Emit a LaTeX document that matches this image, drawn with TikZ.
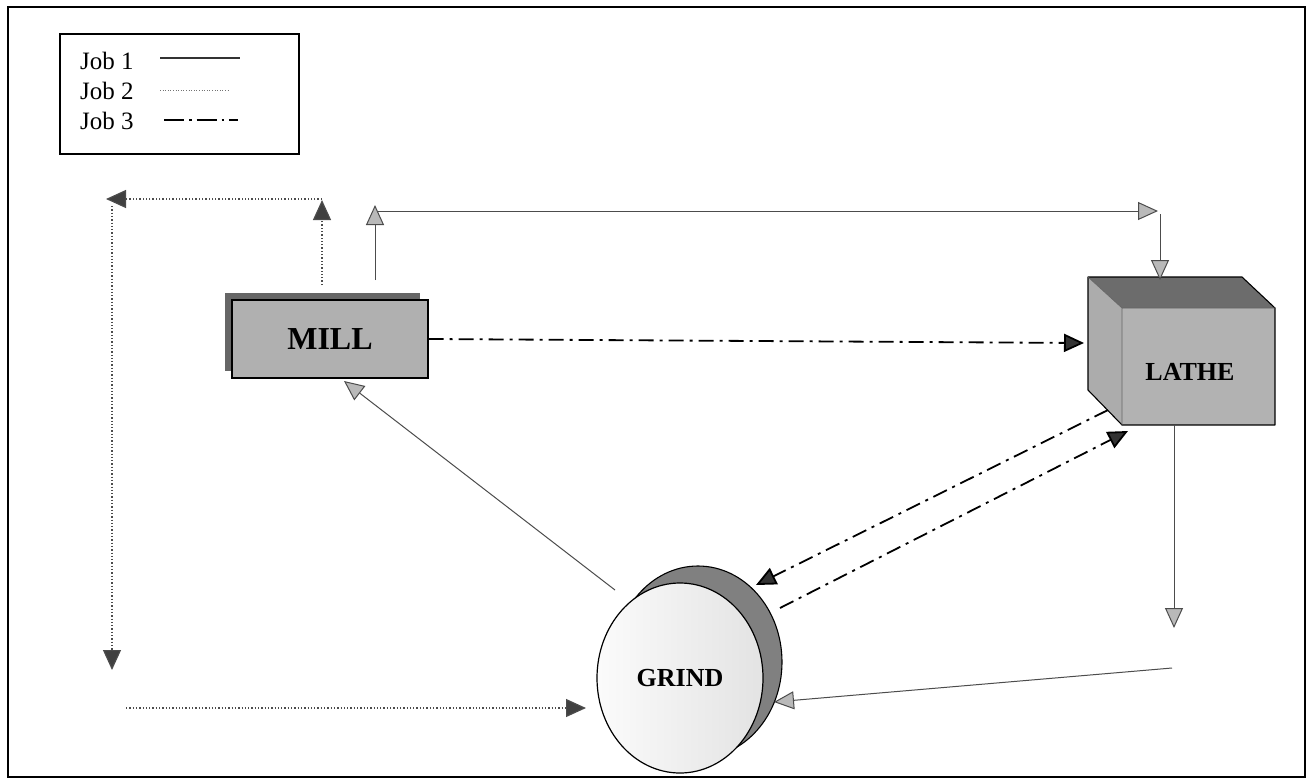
\documentclass[tikz,border=0pt]{standalone}
\usepackage{fontspec}
\setmainfont{Liberation Serif}
\usetikzlibrary{arrows.meta,shapes.geometric}
\begin{document}
\begin{tikzpicture}[x=1pt,y=-1pt,
  jobone/.style={line width=1pt, draw=black!70,
    -{Triangle[length=20pt,width=18pt,fill=gray!55]}},
  jobtwo/.style={line width=1.2pt, draw=black!70, dash pattern=on 1.3pt off 2pt,
    -{Triangle[length=20pt,width=18pt,fill=black!75]}},
  jobthree/.style={line width=1.8pt, draw=black, dash pattern=on 15pt off 6pt on 3pt off 6pt,
    -{Triangle[length=20pt,width=18pt,fill=black!80]}},
  legtext/.style={anchor=base west, inner sep=0pt, font=\fontsize{25}{30}\selectfont},
  machine/.style={font=\fontsize{#1}{#1}\selectfont\bfseries, inner sep=0pt},
]
\useasboundingbox (0,0) rectangle (1312,780);
\fill[white] (0,0) rectangle (1312,780);
% outer frame
\draw[line width=1.2pt] (8,7) rectangle (1305,777);

% legend
\node[draw, line width=1.1pt, minimum width=239pt, minimum height=120pt, inner sep=0pt] (legend) at (179.5,94) {};
\node[legtext] (lj1) at (80,69) {Job 1};
\node[legtext] (lj2) at (80,99) {Job 2};
\node[legtext] (lj3) at (80,129) {Job 3};
\coordinate (k1a) at (160,58);  \coordinate (k1b) at (240,58);
\coordinate (k2a) at (160,90);  \coordinate (k2b) at (230,90);
\coordinate (k3a) at (164,120); \coordinate (k3b) at (238,120);
\draw[line width=1.2pt, black!80] (k1a) -- (k1b);
\draw[line width=1pt, black!55, dash pattern=on 1pt off 1.6pt] (k2a) -- (k2b);
\draw[line width=1.6pt, dash pattern=on 20pt off 5pt on 2.5pt off 5pt] (k3a) -- (k3b);

% MILL: shadow plate and front plate
\fill[black!60] (225,293) rectangle (420,371);
\node[draw, line width=1.2pt, fill=gray!62, minimum width=196pt, minimum height=78pt,
      machine=32] (mill) at (330,339) {MILL};

% LATHE: a box seen from the upper left
\coordinate (bl) at (1088,277); \coordinate (br) at (1242,277);
\coordinate (ftl) at (1122,308); \coordinate (ftr) at (1275,308);
\coordinate (fbl) at (1122,425); \coordinate (fbr) at (1275,425);
\coordinate (bbl) at (1088,390);
\fill[gray!60] (ftl) rectangle (fbr);
\fill[gray!65] (bl) -- (ftl) -- (fbl) -- (bbl) -- cycle;
\fill[gray!85!black] (bl) -- (br) -- (ftr) -- (ftl) -- cycle;
\draw[line width=1.1pt, line join=round] (bbl) -- (bl) -- (br) -- (ftr) -- (fbr) -- (fbl) -- cycle;
\draw[line width=0.6pt, black!60] (bl) -- (ftl) -- (ftr) (ftl) -- (fbl);
\node[machine=26] (lathe) at (1190,372) {LATHE};

% GRIND: a disc with its dark rim behind
\draw[line width=1.1pt, fill=black!50] (698,662) ellipse [x radius=84pt, y radius=96pt];
\node[ellipse, draw, line width=1.2pt, minimum width=166pt, minimum height=190pt, inner sep=0pt,
      left color=gray!3, right color=gray!22, machine=26] (grind) at (680,678) {GRIND};

% Job 2 (dotted)
\coordinate (m2a) at (322,285); \coordinate (m2b) at (322,200);
\coordinate (t2a) at (322,199); \coordinate (t2b) at (106,199);
\coordinate (l2a) at (112,206); \coordinate (l2b) at (112,670);
\coordinate (b2a) at (126,708); \coordinate (b2b) at (586,708);
\draw[jobtwo] (m2a) -- (m2b);
\draw[jobtwo] (t2a) -- (t2b);
\draw[jobtwo] (l2a) -- (l2b);
\draw[jobtwo] (b2a) -- (b2b);

% Job 1 (solid)
\coordinate (g1) at (615,590);   \coordinate (m1) at (344,381);
\coordinate (m1a) at (375,280);  \coordinate (m1b) at (375,205);
\coordinate (h1a) at (378,211);  \coordinate (h1b) at (1158,211);
\coordinate (v1a) at (1160,214); \coordinate (v1b) at (1160,280);
\coordinate (d1a) at (1174,425); \coordinate (d1b) at (1174,628);
\coordinate (r1a) at (1172,668); \coordinate (r1b) at (774,702);
\draw[jobone] (g1) -- (m1);
\draw[jobone] (m1a) -- (m1b);
\draw[jobone] (h1a) -- (h1b);
\draw[jobone] (v1a) -- (v1b);
\draw[jobone] (d1a) -- (d1b);
\draw[jobone] (r1a) -- (r1b);

% Job 3 (dash-dot)
\coordinate (l3a) at (1084,343);
\coordinate (u3a) at (1108,410); \coordinate (u3b) at (756,585);
\coordinate (w3a) at (780,608);  \coordinate (w3b) at (1128,431);
\draw[jobthree] (mill.east) -- (l3a);
\draw[jobthree] (u3a) -- (u3b);
\draw[jobthree] (w3a) -- (w3b);
\end{tikzpicture}
\end{document}
